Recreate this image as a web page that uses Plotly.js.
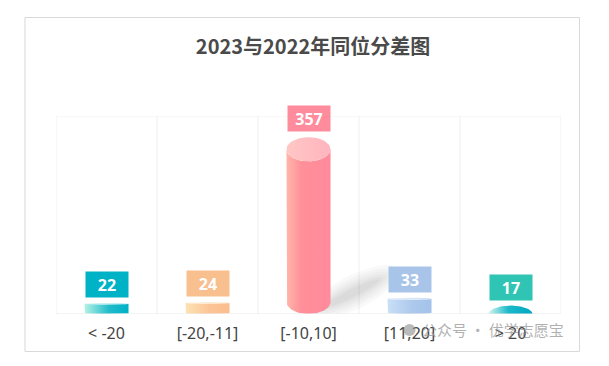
<!DOCTYPE html>
<html>
<head>
<meta charset="utf-8">
<script src="https://cdn.plot.ly/plotly-3.0.1.min.js"></script>
<style>html,body{margin:0;padding:0;background:#fff;}#chart{width:609px;height:366px;}</style>
</head>
<body>
<div id="chart"></div>
<script>
// ---- data ----
const categories = ['< -20', '[-20,-11]', '[-10,10]', '[11,20]', '> 20'];
const values = [22, 24, 357, 33, 17];
const titleText = '2023与2022年同位分差图';
const watermarkText = '公众号 · 优学志愿宝';
const yRangeMax = 400;

// ---- styles ----
const bodyColors = [
  [[0, '#b4f2e4'], [0.55, '#22bccb'], [1, '#00b0c6']],
  [[0, '#fde2b4'], [0.55, '#fcc496'], [1, '#fbbd8d']],
  [[0, '#ffb6aa'], [0.35, '#ff8f99'], [1, '#ff8a9b']],
  [[0, '#cadff7'], [0.55, '#adc9ec'], [1, '#a4c2ea']],
  [[0, '#d4f6f1'], [0.45, '#1cb9c9'], [1, '#00a6c2']]
];
const topColors = [
  [[0, '#d8faf4'], [1, '#7fdbe4']],
  [[0, '#fff0d6'], [1, '#fde0c4']],
  [[0, '#ffc7c5'], [1, '#ffb4be']],
  [[0, '#e4eefb'], [1, '#cddff5']],
  [[0, '#e8fbf8'], [1, '#9fe3e8']]
];
const labelColors = ['#00b2c6', '#f8c08f', '#ff8c9c', '#a8c5e9', '#2fc4b3'];
const shapeKinds = ['cylinder', 'cylinder', 'cylinder', 'cylinder', 'dome'];
const halfWidth = 0.218;      // in category units
const ellipseRatio = 0.068;   // top/bottom ellipse half-height relative to value

function arc(cx, cy, rx, ry, t0, t1, n) {
  const xs = [], ys = [];
  for (let k = 0; k <= n; k++) {
    const t = t0 + (t1 - t0) * k / n;
    xs.push(cx + rx * Math.cos(t));
    ys.push(cy + ry * Math.sin(t));
  }
  return [xs, ys];
}

const traces = [];
const maxV = Math.max(...values);
const pxX = 1 / 101, pxY = yRangeMax / 198;

// soft shadows (rotated ellipses, several faint layers)
values.forEach((v, i) => {
  const f = v / maxV;
  if (f < 0.2) return;
  const bx = i + halfWidth;
  const ang = Math.atan2(32, 64);
  const ccx = 24, ccy = 22;
  [[1.0, 1.0], [0.92, 0.82], [0.84, 0.66], [0.76, 0.5], [0.68, 0.36], [0.6, 0.24]].forEach(([sa, sb]) => {
    const a = 50 * sa, b = 17 * sb;
    const xs = [], ys = [];
    for (let k = 0; k <= 48; k++) {
      const t = 2 * Math.PI * k / 48;
      const ex = a * Math.cos(t), ey = b * Math.sin(t);
      const px = ccx - 6 * (1 - sa) + ex * Math.cos(ang) - ey * Math.sin(ang);
      const py = ccy - 3 * (1 - sa) + ex * Math.sin(ang) + ey * Math.cos(ang);
      xs.push(bx + px * f * pxX);
      ys.push(Math.max(0, py * f * pxY));
    }
    traces.push({x: xs, y: ys, type: 'scatter', mode: 'lines', fill: 'toself',
      line: {width: 0}, fillcolor: 'rgba(0,0,0,0.022)',
      hoverinfo: 'skip', showlegend: false});
  });
});

// bars
values.forEach((v, i) => {
  const c = i, hw = halfWidth;
  const grad = (cs) => ({type: 'horizontal', colorscale: cs, start: c - hw, stop: c + hw});
  if (shapeKinds[i] === 'dome') {
    const [xs, ys] = arc(c, 0, hw, v, 0, Math.PI, 60);
    xs.push(xs[0]); ys.push(ys[0]);
    traces.push({x: xs, y: ys, type: 'scatter', mode: 'lines', fill: 'toself',
      line: {width: 0}, fillgradient: grad(bodyColors[i]), hoverinfo: 'skip', showlegend: false});
    return;
  }
  const ry = ellipseRatio * v;
  const xs = [c - hw, c - hw], ys = [v - ry, ry];
  let a = arc(c, ry, hw, ry, Math.PI, 2 * Math.PI, 40);
  xs.push(...a[0]); ys.push(...a[1]);
  xs.push(c + hw); ys.push(v - ry);
  a = arc(c, v - ry, hw, ry, 2 * Math.PI, Math.PI, 40);
  xs.push(...a[0]); ys.push(...a[1]);
  xs.push(xs[0]); ys.push(ys[0]);
  traces.push({x: xs, y: ys, type: 'scatter', mode: 'lines', fill: 'toself',
    line: {width: 0}, fillgradient: grad(bodyColors[i]), hoverinfo: 'skip', showlegend: false});
  const t = arc(c, v - ry, hw, ry, 0, 2 * Math.PI, 60);
  traces.push({x: t[0], y: t[1], type: 'scatter', mode: 'lines', fill: 'toself',
    line: {width: 0}, fillgradient: grad(topColors[i]), hoverinfo: 'skip', showlegend: false});
});

const shapes = [];
for (let k = 0; k <= categories.length; k++) {
  shapes.push({type: 'line', xref: 'x', yref: 'paper', x0: k - 0.5, x1: k - 0.5, y0: 0, y1: 1,
    line: {color: '#efefef', width: 1}, layer: 'below'});
}
shapes.push({type: 'line', xref: 'paper', yref: 'y', x0: 0, x1: 1, y0: yRangeMax, y1: yRangeMax,
  line: {color: '#efefef', width: 1}, layer: 'below'});
shapes.push({type: 'line', xref: 'paper', yref: 'y', x0: 0, x1: 1, y0: 0, y1: 0,
  line: {color: '#e8e8e8', width: 1}, layer: 'above'});
// outer frame
shapes.push({type: 'rect', xref: 'paper', yref: 'paper', x0: -0.0614, x1: 1.0366, y0: -0.1894, y1: 1.4975,
  line: {color: '#d9d9d9', width: 1}, fillcolor: 'rgba(0,0,0,0)', layer: 'below'});
// watermark icon
shapes.push({type: 'circle', xref: 'paper', yref: 'paper', x0: 0.688, x1: 0.712, y0: -0.111, y1: -0.050,
  line: {width: 0}, fillcolor: 'rgba(140,140,140,0.6)', layer: 'above'});

const annotations = values.map((v, i) => ({
  x: i, y: v, xref: 'x', yref: 'y', yanchor: 'bottom', yshift: 5, showarrow: false,
  text: String(v), width: 42, height: 25, borderpad: 0, bgcolor: labelColors[i],
  font: {family: 'Open Sans, sans-serif', size: 16, color: '#ffffff', weight: 700}
}));
annotations.push({xref: 'paper', yref: 'paper', x: 0.866, y: -0.0808, showarrow: false,
  text: watermarkText, xanchor: 'center', yanchor: 'middle',
  font: {family: 'Noto Sans CJK SC, sans-serif', size: 15, color: 'rgba(150,150,150,0.75)'}});

const layout = {
  width: 609, height: 366,
  margin: {l: 56, r: 48, t: 116, b: 52},
  paper_bgcolor: '#ffffff', plot_bgcolor: '#ffffff',
  title: {text: titleText, xref: 'paper', x: 0.509, xanchor: 'center', yref: 'container', y: 0.8716, yanchor: 'middle',
    font: {family: 'Noto Sans CJK SC, sans-serif', size: 20, color: '#4a4a4a', weight: 700}},
  xaxis: {range: [-0.5, categories.length - 0.5], tickvals: categories.map((_, i) => i), ticktext: categories,
    showgrid: false, zeroline: false, showline: false, ticks: '', fixedrange: true, ticklabelstandoff: 8,
    tickfont: {family: 'Noto Sans, Open Sans, sans-serif', size: 16, color: '#444444'}},
  yaxis: {range: [0, yRangeMax], visible: false, showgrid: false, zeroline: false, fixedrange: true},
  shapes: shapes, annotations: annotations, showlegend: false
};

Plotly.newPlot('chart', traces, layout, {displayModeBar: false, staticPlot: true});
</script>
</body>
</html>
